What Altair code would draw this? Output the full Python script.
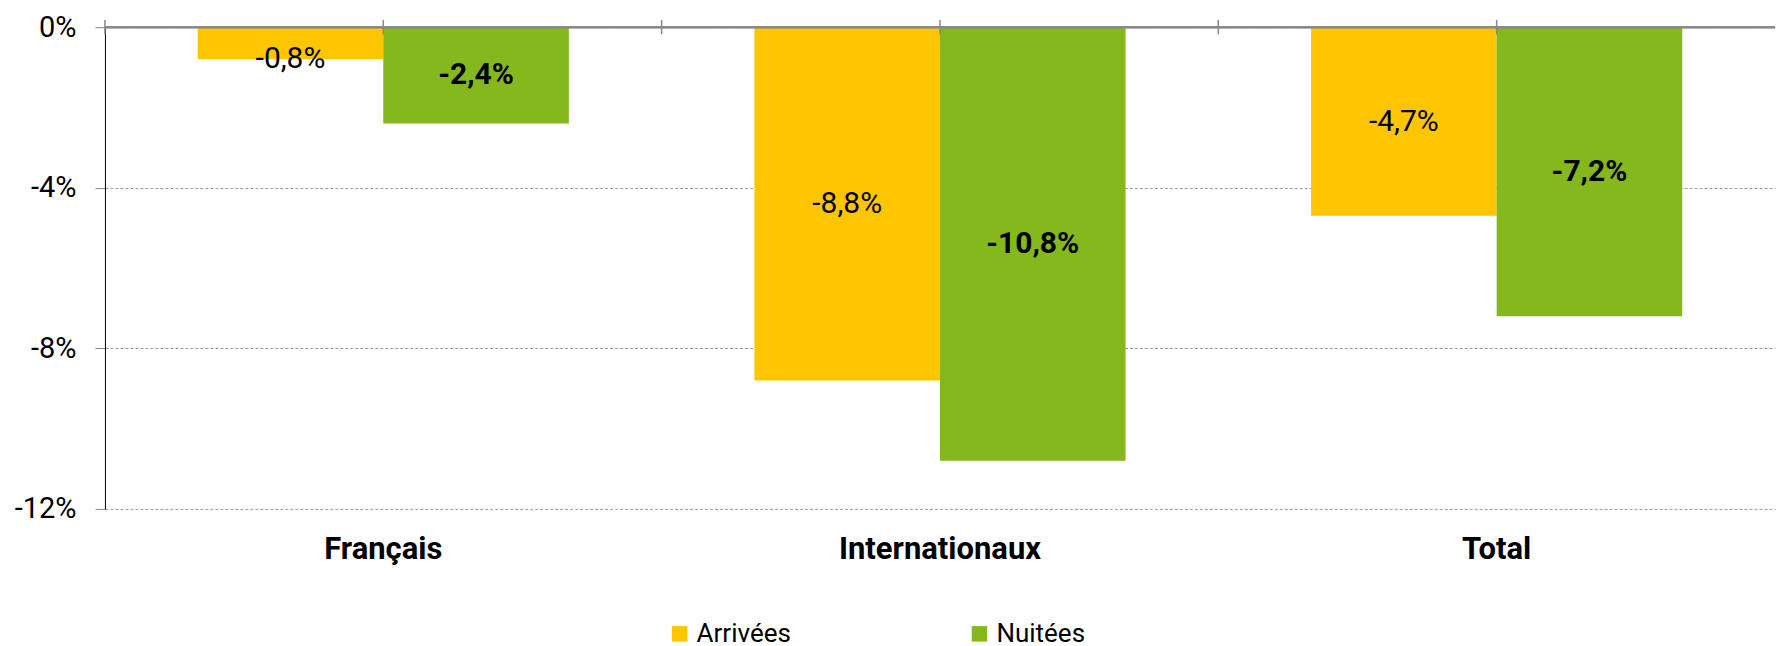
import altair as alt
import pandas as pd

categories = ["Français", "Internationaux", "Total"]
series = ["Arrivées", "Nuitées"]
arrivees = [-0.8, -8.8, -4.7]
nuitees = [-2.4, -10.8, -7.2]
colors = ["#FEC500", "#84B81C"]
y_ticks = [0, -4, -8, -12]

rows = []
for c, a, n in zip(categories, arrivees, nuitees):
    rows.append({"cat": c, "serie": series[0], "value": a})
    rows.append({"cat": c, "serie": series[1], "value": n})
df = pd.DataFrame(rows)
df["label"] = df["value"].map(lambda v: f"{v:.1f}".replace(".", ",") + "%")
cats_df = pd.DataFrame({"cat": categories})

FONT = "Roboto"
x_scale = alt.Scale(domain=categories, paddingInner=0, paddingOuter=0)
y_scale = alt.Scale(domain=[-12, 0], nice=False)
off_scale = alt.Scale(domain=series, paddingInner=0, paddingOuter=0.5)

x_axis = alt.Axis(orient="bottom", domain=False, ticks=False, grid=False,
                  labelAngle=0, labelFontSize=31, labelFontWeight="bold",
                  labelFont=FONT, labelColor="#000", labelPadding=26,
                  labelLimit=600)
y_axis = alt.Axis(values=y_ticks, labelExpr="datum.value + '%'",
                  labelFontSize=29, labelFont=FONT, labelColor="#000",
                  labelPadding=19, tickSize=10, tickColor="#888",
                  domainColor="#000", domainWidth=1,
                  grid=True, gridColor="#999", gridDash=[3, 2],
                  minExtent=97, maxExtent=97)

X = alt.X("cat:N", scale=x_scale, sort=categories, title=None, axis=x_axis)
XO = alt.XOffset("serie:N", scale=off_scale, sort=series)

bars = alt.Chart(df).mark_bar().encode(
    x=X,
    xOffset=XO,
    y=alt.Y("value:Q", scale=y_scale, title=None, axis=y_axis),
    y2=alt.datum(0),
    color=alt.Color("serie:N", scale=alt.Scale(domain=series, range=colors),
                    legend=alt.Legend(orient="none", legendX=562, legendY=594,
                                      direction="horizontal", title=None,
                                      symbolType="square", symbolSize=240,
                                      symbolStrokeWidth=0,
                                      labelFontSize=26, labelFont=FONT, labelColor="#000",
                                      columnPadding=175)),
)

label_pos = "datum.value < -1.6 ? datum.value / 2 : datum.value"

def labels(s, weight):
    return alt.Chart(df).transform_filter(alt.datum.serie == s).transform_calculate(
        ypos=label_pos).mark_text(fontSize=30, font=FONT, fontWeight=weight,
                                  color="#000").encode(
        x=X,
        xOffset=XO,
        y=alt.Y("ypos:Q", scale=y_scale, title=None, axis=y_axis),
        text="label:N",
    )

text_a = labels(series[0], "normal")
text_n = labels(series[1], "bold")

zero = alt.Chart(cats_df).mark_rule(color="#888", strokeWidth=2).encode(
    y=alt.datum(0))

tick_c = alt.Chart(cats_df).mark_rule(color="#888", strokeWidth=1.5).encode(
    x=X, y=alt.datum(0.18), y2=alt.datum(-0.18))
tick_b = alt.Chart(cats_df).mark_rule(color="#888", strokeWidth=1.5).encode(
    x=alt.X("cat:N", scale=x_scale, sort=categories, title=None, axis=x_axis,
            bandPosition=0),
    y=alt.datum(0.18), y2=alt.datum(-0.18))

chart = alt.layer(bars, zero, tick_c, tick_b, text_a, text_n).properties(
    width=1671, height=482,
    padding={"left": 0, "top": 5, "right": 0, "bottom": 0},
).configure(background="white").configure_view(stroke=None)

chart.save("out.html", embed_options={"renderer": "svg", "actions": False})
